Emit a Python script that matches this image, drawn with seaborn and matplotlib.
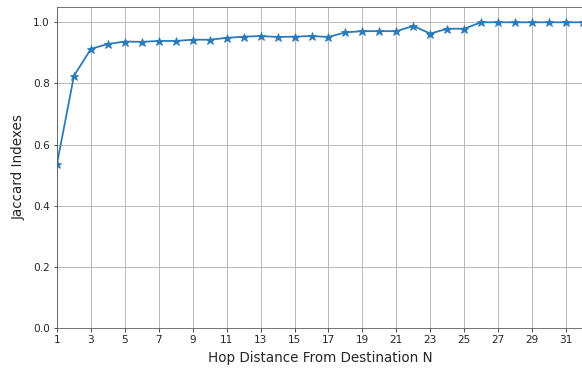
import matplotlib
matplotlib.use("Agg")
import matplotlib.pyplot as plt
import seaborn as sns
import pandas as pd

hops = list(range(1, 33))
jaccard = [0.537, 0.825, 0.913, 0.929, 0.937, 0.936, 0.939, 0.939, 0.943, 0.943,
           0.949, 0.953, 0.955, 0.952, 0.953, 0.955, 0.952, 0.967, 0.971, 0.971,
           0.971, 0.988, 0.963, 0.979, 0.979, 1.0, 1.0, 1.0, 1.0, 1.0,
           1.0, 1.0]
xticks = list(range(1, 32, 2))

df = pd.DataFrame({"hop": hops, "jaccard": jaccard})

sns.set_style("ticks")
plt.rcParams['font.family'] = ['DejaVu Sans']
dpi = 72
fig = plt.figure(figsize=(582 / dpi, 371 / dpi), dpi=dpi)
ax = fig.add_axes([57 / 582, 1 - 328 / 371, (583 - 57) / 582, (328 - 7) / 371])
sns.lineplot(data=df, x="hop", y="jaccard", marker="*", markersize=9,
             color="#2b7bba", linewidth=1.8, markeredgecolor="#2b7bba", ax=ax)
ax.set_xlim(1, 32)
ax.set_ylim(0, 1.05)
ax.set_xticks(xticks)
ax.set_yticks([0.0, 0.2, 0.4, 0.6, 0.8, 1.0])
ax.tick_params(labelsize=10.5, colors="#262626")
ax.grid(True, color="#bbbbbb", linewidth=1.0)
ax.set_xlabel("Hop Distance From Destination N", fontsize=13.5, labelpad=6)
ax.set_ylabel("Jaccard Indexes", fontsize=13.5, labelpad=7)
for s in ax.spines.values():
    s.set_color("#555555")
fig.savefig("out.png", dpi=dpi)
